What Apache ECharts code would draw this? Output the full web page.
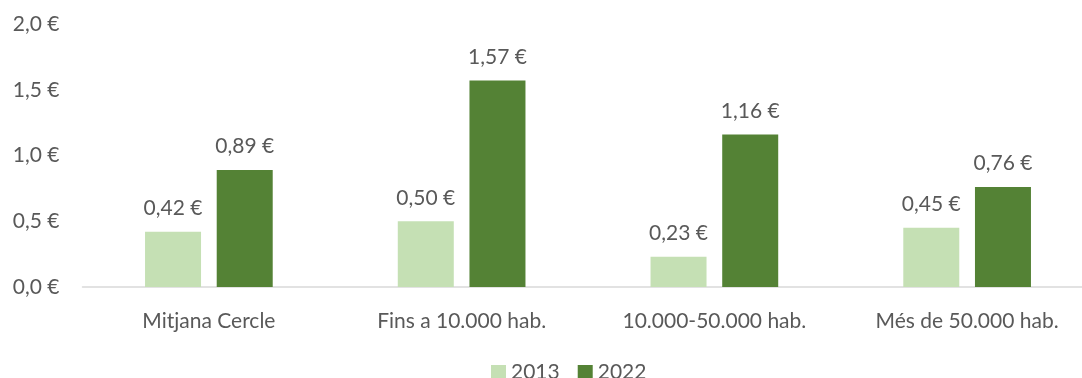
<!DOCTYPE html>
<html>
<head>
<meta charset="utf-8">
<script src="https://cdn.jsdelivr.net/npm/echarts@6/dist/echarts.min.js"></script>
<style>
  html, body { margin: 0; padding: 0; background: #ffffff; }
  #chart { width: 1082px; height: 378px; }
</style>
</head>
<body>
<div id="chart"></div>
<script>
// Average price per category, 2013 vs 2022 (€)
const categories = ['Mitjana Cercle', 'Fins a 10.000 hab.', '10.000-50.000 hab.', 'Més de 50.000 hab.'];
const seriesNames = ['2013', '2022'];
const values2013 = [0.42, 0.50, 0.23, 0.45];
const values2022 = [0.89, 1.57, 1.16, 0.76];

const textColor = '#595959';
const fontFamily = 'Lato, "Open Sans", sans-serif';
const fontSize = 21;

function euro(v, digits) {
  return v.toFixed(digits).replace('.', ',') + ' €';
}

const chart = echarts.init(document.getElementById('chart'));

const barLabel = {
  show: true,
  position: 'top',
  distance: 13,
  color: textColor,
  fontSize: fontSize,
  fontFamily: fontFamily,
  formatter: p => euro(p.value, 2)
};

chart.setOption({
  animation: false,
  textStyle: { fontFamily: fontFamily },
  grid: { left: 82.5, top: 24, width: 1011, height: 263, containLabel: false, outerBoundsMode: 'none' },
  legend: {
    data: seriesNames,
    top: 357,
    left: 486,
    itemWidth: 15,
    itemHeight: 15,
    itemGap: 18,
    icon: 'rect',
    textStyle: { color: textColor, fontSize: fontSize, fontFamily: fontFamily }
  },
  xAxis: {
    type: 'category',
    data: categories,
    axisLine: { lineStyle: { color: '#D9D9D9', width: 1.5 } },
    axisTick: { show: false },
    axisLabel: { color: textColor, fontSize: fontSize, margin: 24, fontFamily: fontFamily }
  },
  yAxis: {
    type: 'value',
    min: 0,
    max: 2,
    interval: 0.5,
    splitLine: { show: false },
    axisLine: { show: false },
    axisTick: { show: false },
    axisLabel: {
      color: textColor,
      fontSize: fontSize,
      margin: 23,
      fontFamily: fontFamily,
      formatter: v => euro(v, 1)
    }
  },
  series: [
    {
      name: seriesNames[0],
      type: 'bar',
      data: values2013,
      barWidth: 56,
      barGap: '28%',
      itemStyle: { color: '#C5E0B4' },
      label: barLabel
    },
    {
      name: seriesNames[1],
      type: 'bar',
      data: values2022,
      barWidth: 56,
      barGap: '28%',
      itemStyle: { color: '#548235' },
      label: barLabel
    }
  ]
});
</script>
</body>
</html>
